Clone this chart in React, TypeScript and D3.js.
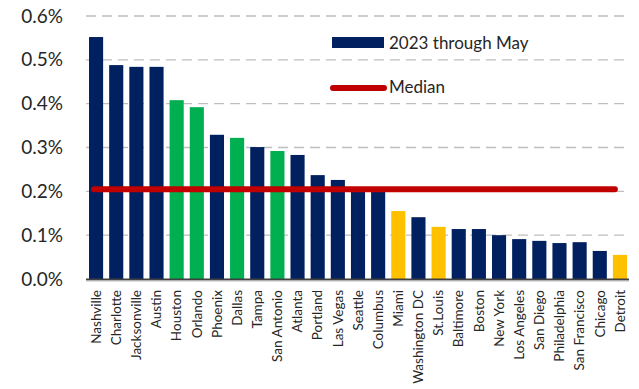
import React from "react";
import * as d3 from "d3";

const cities = ["Nashville","Charlotte","Jacksonville","Austin","Houston","Orlando","Phoenix","Dallas","Tampa","San Antonio","Atlanta","Portland","Las Vegas","Seattle","Columbus","Miami","Washington DC","St.Louis","Baltimore","Boston","New York","Los Angeles","San Diego","Philadelphia","San Francisco","Chicago","Detroit"];
const values = [0.552,0.488,0.484,0.484,0.408,0.392,0.329,0.322,0.301,0.292,0.283,0.237,0.226,0.205,0.2,0.155,0.141,0.119,0.114,0.114,0.1,0.091,0.087,0.082,0.084,0.064,0.055];
const groups = ["n","n","n","n","g","g","n","g","n","g","n","n","n","n","n","y","n","y","n","n","n","n","n","n","n","n","y"];
const median = 0.205;
const yTicks = [0, 0.1, 0.2, 0.3, 0.4, 0.5, 0.6];
const legendLabels = ["2023 through May", "Median"];

const colors: Record<string, string> = { n: "#002060", g: "#00B050", y: "#FFC000" };
const FONT = "Lato, 'Open Sans', sans-serif";

export default function App() {
  const W = 639, H = 389;
  const x = d3.scaleBand<string>().domain(cities).range([86, 630]).paddingInner(0.3).paddingOuter(0.15);
  const y = d3.scaleLinear().domain([0, 0.6]).range([279, 16]);
  const fmt = (t: number) => t.toFixed(1) + "%";
  return (
    <svg width={W} height={H} style={{ position: "absolute", left: 0, top: 0, background: "#fff" }}>
      {yTicks.map((t) => (
        <g key={t}>
          {t > 0 && (
            <line x1={86} x2={629} y1={y(t)} y2={y(t)} stroke="#BFBFBF" strokeWidth={1.3} strokeDasharray="10,6" />
          )}
          <text x={63} y={y(t)} dy="0.35em" textAnchor="end" fontFamily={FONT} fontSize={19} fill="#262626">
            {fmt(t)}
          </text>
        </g>
      ))}
      {cities.map((c, i) => (
        <rect key={c} x={x(c)} width={x.bandwidth()} y={y(values[i])} height={y(0) - y(values[i])} fill={colors[groups[i]]} />
      ))}
      <line x1={86} x2={629} y1={279.5} y2={279.5} stroke="#404040" strokeWidth={2} />
      <line x1={86} x2={629} y1={281} y2={281} stroke="#BFBFBF" strokeWidth={1} />
      <line x1={(x(cities[0]) as number) + 5} x2={(x(cities[cities.length - 1]) as number) + 2} y1={y(median)} y2={y(median)} stroke="#C00000" strokeWidth={6} strokeLinecap="round" />
      {cities.map((c) => {
        const cx = (x(c) as number) + x.bandwidth() / 2;
        return (
          <text key={c} transform={`translate(${cx},290) rotate(-90)`} dy="0.35em" textAnchor="end" fontFamily={FONT} fontSize={13.5} fill="#262626">
            {c}
          </text>
        );
      })}
      <rect x={332} y={37} width={52} height={11} fill={colors.n} />
      <text x={389} y={43} dy="0.35em" fontFamily={FONT} fontSize={17} fill="#262626">{legendLabels[0]}</text>
      <line x1={333} x2={384} y1={88} y2={88} stroke="#C00000" strokeWidth={6} strokeLinecap="round" />
      <text x={389} y={87} dy="0.35em" fontFamily={FONT} fontSize={17} fill="#262626">{legendLabels[1]}</text>
    </svg>
  );
}
